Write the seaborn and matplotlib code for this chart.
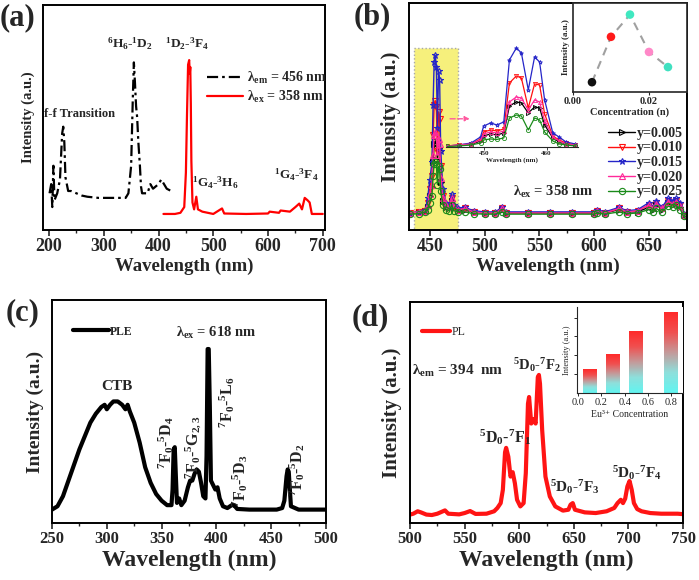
import numpy as np
import pandas as pd
import matplotlib
matplotlib.use("Agg")
import matplotlib.pyplot as plt
import seaborn as sns
from matplotlib.colors import LinearSegmentedColormap
from matplotlib.patches import Rectangle

# ---- data (a): excitation (black) and emission (red) ----
a_ex_wl = [201, 204, 206, 208, 210, 215, 220, 224, 226, 228, 230, 235, 240, 250, 260, 270, 290,
           320, 340, 345, 350, 353, 355, 357, 359, 361, 363, 366, 368, 370, 380, 385, 390, 395,
           400, 405, 410, 415, 423]
a_ex_int = [0.16, 0.20, 0.10, 0.28, 0.13, 0.16, 0.22, 0.42, 0.45, 0.38, 0.23, 0.17, 0.17, 0.16,
            0.15, 0.145, 0.14, 0.14, 0.14, 0.16, 0.28, 0.57, 0.73, 0.64, 0.54, 0.49, 0.39, 0.28,
            0.19, 0.16, 0.16, 0.20, 0.18, 0.19, 0.20, 0.22, 0.20, 0.18, 0.17]
a_em_wl = [409, 430, 440, 447, 450, 452, 454, 456, 457, 458, 459, 460, 462, 465, 469, 472, 480,
           490, 500, 516, 520, 560, 600, 603, 620, 623, 640, 650, 657, 662, 667, 672, 676, 680, 700]
a_em_int = [0.07, 0.07, 0.075, 0.10, 0.25, 0.50, 0.72, 0.74, 0.68, 0.71, 0.55, 0.30, 0.12, 0.09,
            0.145, 0.09, 0.08, 0.075, 0.07, 0.094, 0.072, 0.07, 0.072, 0.08, 0.075, 0.085, 0.08,
            0.10, 0.115, 0.09, 0.14, 0.13, 0.12, 0.07, 0.07]

# ---- data (b): emission vs Eu/Tm content ----
b_labels = ["y=0.005", "y=0.010", "y=0.015", "y=0.020", "y=0.025"]
b_colors = ["#000000", "#ff1010", "#2525c8", "#ff2a9a", "#1a8a1a"]
b_markers = [">", "v", "*", "^", "o"]
b_wl = [432, 440, 446, 448, 450, 452, 453, 454, 455, 456, 457, 458, 459, 460, 462, 465, 468, 470,
        472, 476, 482, 490, 500, 510, 516, 520, 540, 560, 580, 600, 603, 610, 623, 630, 640, 650,
        654, 657, 662, 668, 672, 675, 679, 682, 685]
b_y005 = [0.075, 0.08, 0.085, 0.10, 0.15, 0.19, 0.30, 0.38, 0.39, 0.38, 0.31, 0.36, 0.35, 0.21,
          0.13, 0.10, 0.095, 0.13, 0.095, 0.085, 0.09, 0.08, 0.075, 0.075, 0.09, 0.075, 0.075,
          0.075, 0.075, 0.075, 0.08, 0.075, 0.09, 0.08, 0.08, 0.10, 0.09, 0.11, 0.09, 0.12, 0.11,
          0.12, 0.10, 0.065, 0.065]
b_y010 = [0.075, 0.08, 0.085, 0.12, 0.18, 0.24, 0.42, 0.55, 0.57, 0.54, 0.35, 0.52, 0.49, 0.28,
          0.15, 0.11, 0.10, 0.14, 0.10, 0.09, 0.095, 0.08, 0.075, 0.075, 0.095, 0.075, 0.075,
          0.075, 0.075, 0.075, 0.085, 0.075, 0.095, 0.08, 0.085, 0.11, 0.095, 0.12, 0.095, 0.13,
          0.12, 0.13, 0.11, 0.065, 0.065]
b_y015 = [0.075, 0.08, 0.09, 0.14, 0.22, 0.30, 0.55, 0.74, 0.77, 0.72, 0.45, 0.70, 0.66, 0.35,
          0.18, 0.12, 0.11, 0.16, 0.11, 0.095, 0.10, 0.085, 0.08, 0.08, 0.10, 0.08, 0.08, 0.08,
          0.08, 0.08, 0.09, 0.08, 0.10, 0.085, 0.09, 0.12, 0.10, 0.13, 0.10, 0.14, 0.13, 0.14,
          0.12, 0.07, 0.07]
b_y020 = [0.075, 0.08, 0.085, 0.11, 0.16, 0.20, 0.33, 0.42, 0.43, 0.42, 0.33, 0.40, 0.38, 0.23,
          0.14, 0.11, 0.10, 0.14, 0.10, 0.09, 0.095, 0.08, 0.075, 0.075, 0.095, 0.075, 0.075,
          0.075, 0.075, 0.075, 0.085, 0.075, 0.095, 0.08, 0.085, 0.11, 0.095, 0.115, 0.095,
          0.125, 0.115, 0.125, 0.105, 0.065, 0.065]
b_y025 = [0.07, 0.072, 0.08, 0.09, 0.12, 0.15, 0.24, 0.29, 0.30, 0.29, 0.20, 0.28, 0.27, 0.17,
          0.11, 0.09, 0.085, 0.11, 0.085, 0.08, 0.08, 0.072, 0.07, 0.07, 0.08, 0.07, 0.07, 0.07,
          0.07, 0.07, 0.075, 0.07, 0.08, 0.072, 0.075, 0.09, 0.08, 0.095, 0.08, 0.105, 0.10,
          0.11, 0.09, 0.06, 0.06]

# zoomed inset of (b)
z_wl = [444.2, 446, 448, 449.5, 450, 451.1, 452.1, 453.2, 454.1, 455.2, 456, 457.1, 458.1, 458.9,
        459.7, 461, 462, 463.1, 464.6]
z_y005 = [0.01, 0.015, 0.025, 0.06, 0.11, 0.13, 0.12, 0.14, 0.41, 0.45, 0.44, 0.34, 0.40, 0.39,
          0.22, 0.09, 0.05, 0.03, 0.015]
z_y010 = [0.01, 0.02, 0.03, 0.08, 0.15, 0.17, 0.16, 0.18, 0.64, 0.71, 0.69, 0.39, 0.63, 0.62,
          0.33, 0.11, 0.07, 0.04, 0.02]
z_y015 = [0.01, 0.02, 0.04, 0.10, 0.21, 0.24, 0.22, 0.25, 0.87, 0.99, 0.94, 0.57, 0.90, 0.85,
          0.47, 0.14, 0.10, 0.05, 0.03]
z_y020 = [0.01, 0.02, 0.03, 0.07, 0.13, 0.15, 0.14, 0.16, 0.45, 0.50, 0.49, 0.37, 0.47, 0.45,
          0.26, 0.10, 0.06, 0.03, 0.02]
z_y025 = [0.005, 0.01, 0.02, 0.04, 0.07, 0.08, 0.075, 0.09, 0.29, 0.32, 0.31, 0.17, 0.29, 0.27,
          0.15, 0.06, 0.03, 0.02, 0.01]

# concentration inset of (b)
conc_n = [0.005, 0.010, 0.015, 0.020, 0.025]
conc_int = [0.11, 0.62, 0.87, 0.45, 0.28]
conc_colors = ["#101010", "#ff1a1a", "#40e8c0", "#ff88c8", "#40e0c0"]

# ---- data (c): PLE ----
c_wl = [250, 255, 260, 265, 270, 275, 280, 285, 290, 295, 298, 300, 303, 306, 310, 314, 317, 319,
        321, 325, 330, 335, 340, 345, 350, 355, 359, 360, 361, 362, 363, 364, 366, 368, 371, 374,
        376, 378, 380, 382, 384, 386, 388, 390, 391, 392, 393, 394, 395, 397, 399, 401, 403, 406,
        410, 414, 416, 419, 430, 455, 460, 462, 464, 465, 466, 467, 468, 475, 500]
c_int = [0.06, 0.075, 0.12, 0.19, 0.26, 0.33, 0.39, 0.45, 0.49, 0.52, 0.53, 0.51, 0.53, 0.545,
         0.545, 0.53, 0.51, 0.53, 0.50, 0.45, 0.36, 0.25, 0.18, 0.13, 0.10, 0.08, 0.08, 0.15, 0.33,
         0.34, 0.21, 0.09, 0.11, 0.08, 0.10, 0.16, 0.19, 0.19, 0.22, 0.24, 0.23, 0.18, 0.12, 0.11,
         0.30, 0.78, 0.78, 0.52, 0.19, 0.17, 0.15, 0.16, 0.11, 0.075, 0.067, 0.08, 0.08, 0.063,
         0.06, 0.06, 0.067, 0.10, 0.21, 0.24, 0.23, 0.15, 0.075, 0.06, 0.06]

# ---- data (d): PL ----
d_wl = [500, 503, 507, 510, 515, 520, 525, 532, 535, 545, 550, 555, 560, 570, 577, 580, 583, 585,
        587, 588, 590, 592, 594, 596, 598, 601, 604, 606, 608, 609, 611, 613, 615, 617, 618, 619,
        621, 624, 628, 633, 640, 645, 647, 649, 651, 660, 670, 680, 687, 690, 693, 695, 697, 699,
        701, 703, 705, 708, 712, 720, 730, 745, 750]
d_int = [0.038, 0.042, 0.053, 0.048, 0.038, 0.036, 0.042, 0.057, 0.042, 0.039, 0.045, 0.054,
         0.041, 0.042, 0.053, 0.068, 0.09, 0.15, 0.32, 0.34, 0.30, 0.21, 0.23, 0.18, 0.105, 0.075,
         0.09, 0.225, 0.54, 0.57, 0.45, 0.47, 0.45, 0.66, 0.67, 0.63, 0.42, 0.21, 0.12, 0.075,
         0.056, 0.06, 0.083, 0.09, 0.06, 0.048, 0.045, 0.053, 0.068, 0.09, 0.105, 0.09, 0.11,
         0.165, 0.19, 0.15, 0.09, 0.063, 0.053, 0.045, 0.042, 0.042, 0.04]

# inset of (d): Eu3+ concentration bars
eu_conc = [0.1, 0.3, 0.5, 0.8]
eu_int = [1.23, 2.05, 3.25, 4.26]

# ---- style ----
sns.set_style("ticks")
plt.rcParams["font.family"] = ["Liberation Serif", "DejaVu Serif"]
plt.rcParams["font.weight"] = "bold"
plt.rcParams["mathtext.fontset"] = "custom"
plt.rcParams["mathtext.rm"] = "Liberation Serif"
plt.rcParams["mathtext.it"] = "Liberation Serif:italic"
plt.rcParams["mathtext.bf"] = "Liberation Serif:bold"
plt.rcParams["mathtext.default"] = "bf"
plt.rcParams["axes.linewidth"] = 1.4

fig = plt.figure(figsize=(6.99, 5.80), dpi=100)


def style_main(ax, xlim, major, minor, tsize, xl_size, yl_size):
    ax.set_xlim(*xlim)
    ax.set_yticks([])
    ax.set_xticks(np.arange(np.ceil(xlim[0] / major) * major, xlim[1] + 0.1, major))
    ax.set_xticks(np.arange(np.ceil(xlim[0] / minor) * minor, xlim[1] + 0.1, minor), minor=True)
    ax.tick_params(axis="x", which="major", direction="out", length=4, width=1.2,
                   labelsize=tsize, pad=2)
    ax.tick_params(axis="x", which="minor", direction="out", length=2, width=1)
    for lab in ax.get_xticklabels():
        lab.set_fontweight("bold")
    ax.set_xlabel("Wavelength (nm)", fontsize=xl_size, fontweight="bold", labelpad=2)
    ax.set_ylabel("Intensity (a.u.)", fontsize=yl_size, fontweight="bold", labelpad=6)
    for s in ax.spines.values():
        s.set_visible(True)
        s.set_color("black")


# ================= (a) =================
ax_a = fig.add_axes([0.0615, 0.6034, 0.4034, 0.388])
sns.lineplot(x=a_ex_wl, y=a_ex_int, ax=ax_a, color="black", lw=1.6)
ax_a.lines[-1].set_dashes([5, 1.8, 1.2, 1.8])
sns.lineplot(x=a_em_wl, y=a_em_int, ax=ax_a, color="#ff0000", lw=1.6)
ax_a.set_ylim(0, 0.98)
style_main(ax_a, (189, 704), 100, 50, 13, 13.5, 10.5)
ax_a.legend(handles=ax_a.lines[:2],
            labels=[r"λ$_{em}$ = 456 nm", r"λ$_{ex}$ = 358 nm"],
            loc="upper left", bbox_to_anchor=(0.58, 0.71), frameon=False,
            prop={"size": 10, "weight": "bold"}, handlelength=2.6, handletextpad=0.3,
            labelspacing=0.15, borderpad=0, borderaxespad=0)
txt = dict(fontweight="bold", ha="center", va="center")
ax_a.text(256, 0.504, "f-f Transition", fontsize=9, **txt)
ax_a.text(348, 0.813, r"$^{6}$H$_{6}$-$^{1}$D$_{2}$", fontsize=9.5, **txt)
ax_a.text(451, 0.813, r"$^{1}$D$_{2}$-$^{3}$F$_{4}$", fontsize=9.5, **txt)
ax_a.text(503, 0.204, r"$^{1}$G$_{4}$-$^{3}$H$_{6}$", fontsize=9.5, **txt)
ax_a.text(652, 0.239, r"$^{1}$G$_{4}$-$^{3}$F$_{4}$", fontsize=9.5, **txt)

# ================= (b) =================
ax_b = fig.add_axes([0.5851, 0.6034, 0.3977, 0.3914])
ax_b.add_patch(Rectangle((436, 0), 40, 0.80, facecolor="#f6f07c", edgecolor="#a8a8a8",
                         ls=":", lw=1, zorder=0))
b_series = [b_y005, b_y010, b_y015, b_y020, b_y025]
for vals, col, mk in zip(b_series, b_colors, b_markers):
    sns.lineplot(x=b_wl, y=vals, ax=ax_b, color=col, lw=1.0, marker=mk, markersize=4.5,
                 markerfacecolor="none", markeredgecolor=col, markeredgewidth=0.8)
ax_b.set_ylim(0, 1)
style_main(ax_b, (431, 685), 50, 25, 13, 14, 15)
ax_b.legend(handles=ax_b.lines[:5], labels=b_labels, loc="upper left",
            bbox_to_anchor=(0.716, 0.455), frameon=False,
            prop={"size": 10, "weight": "bold"}, handlelength=1.95, handletextpad=0.15,
            labelspacing=0.12, borderpad=0, borderaxespad=0)
ax_b.text(563, 0.167, r"λ$_{ex}$ = 358 nm", fontsize=10.5, **txt)
ax_b.annotate("", xy=(489, 0.49), xytext=(466, 0.49),
              arrowprops=dict(arrowstyle="-|>", color="#ff5aa0", ls="--", lw=1,
                              mutation_scale=7))

# zoomed inset
ax_z = fig.add_axes([0.638, 0.7466, 0.1888, 0.1759])
ax_z.patch.set_alpha(0)
z_series = [z_y005, z_y010, z_y015, z_y020, z_y025]
for vals, col, mk in zip(z_series, b_colors, b_markers):
    sns.lineplot(x=z_wl, y=vals, ax=ax_z, color=col, lw=0.9, marker=mk, markersize=3,
                 markerfacecolor="none", markeredgecolor=col, markeredgewidth=0.6)
ax_z.set_xlim(444, 465)
ax_z.set_ylim(0, 1.02)
ax_z.set_yticks([])
ax_z.set_xticks([450, 460])
for side in ["top", "right", "left"]:
    ax_z.spines[side].set_visible(False)
ax_z.spines["bottom"].set_linewidth(0.8)
ax_z.tick_params(axis="x", length=2, width=0.6, labelsize=5, pad=1)
ax_z.set_xlabel("Wavelength (nm)", fontsize=5, fontweight="bold", labelpad=1)

# concentration inset
ax_c2 = fig.add_axes([0.8197, 0.8414, 0.1631, 0.1534])
sns.lineplot(x=conc_n, y=conc_int, ax=ax_c2, color="#a0a0a0", lw=1.5, zorder=1)
ax_c2.lines[-1].set_dashes([4, 3])
sns.scatterplot(x=conc_n, y=conc_int, ax=ax_c2, hue=b_labels, palette=conc_colors, s=38,
                edgecolor="none", legend=False, zorder=3)
ax_c2.set_xlim(0, 0.03)
ax_c2.set_ylim(0, 1)
ax_c2.set_xticks([0, 0.02])
ax_c2.set_xticklabels(["0.00", "0.02"])
ax_c2.set_yticks([])
ax_c2.tick_params(axis="x", length=2, width=0.8, labelsize=7.5, pad=1.5)
ax_c2.set_xlabel("Concentration (n)", fontsize=7.5, fontweight="bold", labelpad=1)
ax_c2.set_ylabel("Intensity (a.u.)", fontsize=6.5, fontweight="bold", labelpad=2)
for s in ax_c2.spines.values():
    s.set_linewidth(1.2)

# ================= (c) =================
ax_c = fig.add_axes([0.0744, 0.0983, 0.392, 0.3845])
sns.lineplot(x=c_wl, y=c_int, ax=ax_c, color="black", lw=3)
ax_c.set_ylim(0, 1)
style_main(ax_c, (250, 500), 50, 25, 12, 17, 14)
ax_c.legend(handles=ax_c.lines[:1], labels=["PLE"], loc="upper left",
            bbox_to_anchor=(0.077, 0.885), frameon=False,
            prop={"size": 8.5, "weight": "bold"}, handlelength=3.0, handletextpad=0.1,
            borderpad=0, borderaxespad=0)
ax_c.text(400, 0.852, r"λ$_{ex}$ = 618 nm", fontsize=10.5, **txt)
ax_c.text(309, 0.61, "CTB", fontsize=11, **txt)
rot = dict(fontweight="bold", ha="center", va="center", rotation=90, fontsize=11.5)
ax_c.text(354, 0.36, r"$^{7}$F$_{0}$-$^{5}$D$_{4}$", **rot)
ax_c.text(380, 0.34, r"$^{7}$F$_{0}$-$^{5}$G$_{2,3}$", **rot)
ax_c.text(410, 0.54, r"$^{7}$F$_{0}$-$^{5}$L$_{6}$", **rot)
ax_c.text(421.5, 0.19, r"$^{7}$F$_{0}$-$^{5}$D$_{3}$", **rot)
ax_c.text(474, 0.238, r"$^{7}$F$_{0}$-$^{5}$D$_{2}$", **rot)

# ================= (d) =================
ax_d = fig.add_axes([0.5866, 0.0983, 0.3906, 0.381])
sns.lineplot(x=d_wl, y=d_int, ax=ax_d, color="#ff1414", lw=3)
ax_d.set_ylim(0, 1)
style_main(ax_d, (500, 750), 50, 25, 12, 17, 15)
ax_d.legend(handles=ax_d.lines[:1], labels=["PL"], loc="upper left",
            bbox_to_anchor=(0.044, 0.89), frameon=False,
            prop={"size": 8.5, "weight": "normal"}, handlelength=2.4, handletextpad=0.1,
            borderpad=0, borderaxespad=0)
ax_d.text(543.5, 0.69, r"λ$_{em}$ = 394  nm", fontsize=11, **txt)
ax_d.text(616.5, 0.715, r"$^{5}$D$_{0}$-$^{7}$F$_{2}$", fontsize=10.5, **txt)
ax_d.text(587, 0.39, r"$^{5}$D$_{0}$-$^{7}$F$_{1}$", fontsize=11.5, **txt)
ax_d.text(651, 0.163, r"$^{5}$D$_{0}$-$^{7}$F$_{3}$", fontsize=11, **txt)
ax_d.text(708, 0.226, r"$^{5}$D$_{0}$-$^{7}$F$_{4}$", fontsize=11, **txt)

# bar inset of (d)
ax_e = fig.add_axes([0.8255, 0.3224, 0.1516, 0.1483])
bars = ax_e.bar(eu_conc, eu_int, width=0.12, color="none", edgecolor="none")
grad_cmap = LinearSegmentedColormap.from_list(
    "cr", ["#62f4f0", "#8ee0dc", "#c49a9a", "#f05050", "#ff2a2a"])
grad = np.linspace(0, 1, 100).reshape(-1, 1)
for b in bars:
    ax_e.imshow(grad, extent=[b.get_x(), b.get_x() + b.get_width(), 0, b.get_height()],
                origin="lower", cmap=grad_cmap, aspect="auto", zorder=2)
ax_e.set_xlim(-0.01, 0.9)
ax_e.set_ylim(0, 4.56)
ax_e.set_xticks([0, 0.2, 0.4, 0.6, 0.8])
ax_e.set_xticklabels(["0.0", "0.2", "0.4", "0.6", "0.8"], fontweight="normal")
ax_e.set_yticks([1, 2, 3, 4])
ax_e.set_yticklabels([])
ax_e.tick_params(length=2, width=0.7, labelsize=7.5, pad=1.5)
ax_e.spines["top"].set_visible(False)
ax_e.spines["right"].set_visible(False)
ax_e.spines["left"].set_linewidth(0.8)
ax_e.spines["bottom"].set_linewidth(0.8)
ax_e.set_xlabel("Eu³⁺ Concentration", fontsize=7, fontweight="normal", labelpad=2)
ax_e.set_ylabel("Intensity (a.u.)", fontsize=6, fontweight="normal", labelpad=1)

# panel letters
fig.text(0.0, 0.970, "(a)", fontsize=22, fontweight="bold", va="center", ha="left")
fig.text(0.506, 0.972, "(b)", fontsize=22, fontweight="bold", va="center", ha="left")
fig.text(0.008, 0.460, "(c)", fontsize=22, fontweight="bold", va="center", ha="left")
fig.text(0.503, 0.453, "(d)", fontsize=22, fontweight="bold", va="center", ha="left")

fig.savefig("out.png", dpi=100)
